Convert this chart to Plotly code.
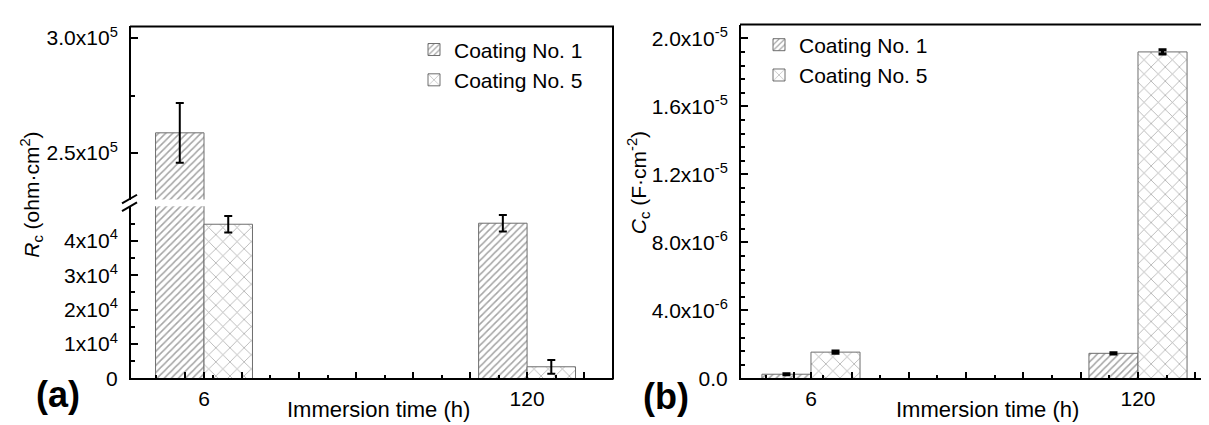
import plotly.graph_objects as go

# ---------------- data ----------------
categories = ["6", "120"]
cat_pos = [1, 2]

rc_coat1 = [2.588e5, 4.51e4]
rc_coat1_err = [1.3e4, 2.4e3]
rc_coat5 = [4.48e4, 3.4e3]
rc_coat5_err = [2.4e3, 2.0e3]

cc_coat1 = [2.5e-7, 1.48e-6]
cc_coat1_err = [3e-8, 4e-8]
cc_coat5 = [1.55e-6, 1.921e-5]
cc_coat5_err = [6e-8, 1.2e-7]

rc_low_ticks = [0, 1e4, 2e4, 3e4, 4e4]
rc_low_text = ["0", "1x10<sup>4</sup>", "2x10<sup>4</sup>", "3x10<sup>4</sup>", "4x10<sup>4</sup>"]
rc_up_ticks = [2.5e5, 3.0e5]
rc_up_text = ["2.5x10<sup>5</sup>", "3.0x10<sup>5</sup>"]
cc_ticks = [0, 4e-6, 8e-6, 1.2e-5, 1.6e-5, 2.0e-5]
cc_text = ["0.0", "4.0x10<sup>-6</sup>", "8.0x10<sup>-6</sup>", "1.2x10<sup>-5</sup>",
           "1.6x10<sup>-5</sup>", "2.0x10<sup>-5</sup>"]

# ---------------- layout helpers (pixel -> paper) ----------------
W, H = 1209, 425
def px(x): return x / W
def py(y): return 1 - y / H

FONT = "Liberation Sans, Arial, sans-serif"
name1, name5 = "Coating No. 1", "Coating No. 5"

pat1 = dict(shape="/", size=5, solidity=0.3, fgcolor="#4a4a4a", bgcolor="white")
pat5 = dict(shape="x", size=10, solidity=0.15, fgcolor="#555555", bgcolor="white")
line_style = dict(color="#6e6e6e", width=1)

def err(vals, thick=2, w=4):
    return dict(type="data", array=vals, visible=True, color="black", thickness=thick, width=w)

fig = go.Figure()

# left panel: lower segment (y) and upper segment (y2)
for ya, show in (("y", True), ("y2", False)):
    fig.add_trace(go.Bar(x=cat_pos, y=rc_coat1, error_y=err(rc_coat1_err), name=name1,
                         marker=dict(color="white", pattern=pat1, line=line_style),
                         xaxis="x", yaxis=ya, showlegend=show, legend="legend",
                         legendgroup="a1", offsetgroup="1"))
    fig.add_trace(go.Bar(x=cat_pos, y=rc_coat5, error_y=err(rc_coat5_err), name=name5,
                         marker=dict(color="white", pattern=pat5, line=line_style),
                         xaxis="x", yaxis=ya, showlegend=show, legend="legend",
                         legendgroup="a5", offsetgroup="5"))

# right panel
fig.add_trace(go.Bar(x=cat_pos, y=cc_coat1, error_y=err(cc_coat1_err, 3, 4), name=name1,
                     marker=dict(color="white", pattern=pat1, line=line_style),
                     xaxis="x2", yaxis="y3", legend="legend2", offsetgroup="1"))
fig.add_trace(go.Bar(x=cat_pos, y=cc_coat5, error_y=err(cc_coat5_err, 3, 4), name=name5,
                     marker=dict(color="white", pattern=pat5, line=line_style),
                     xaxis="x2", yaxis="y3", legend="legend2", offsetgroup="5"))

xl_dom = [px(123), px(605)]
xr_dom = [px(733), 1.0]
xl_range = [0.774, 2.266]
xr_range = [0.786, 2.2416]

axis_common = dict(showgrid=False, zeroline=False, showline=True, linecolor="black",
                   linewidth=2, tickcolor="black", tickwidth=2)

def x_axis(dom, rng, anchor, dt):
    # major ticks on a regular grid through x=2; labels only at the two categories
    n_lo = int((2 - rng[0]) / dt)
    n_hi = int((rng[1] - 2) / dt)
    vals = sorted(set([round(2 + k * dt, 6) for k in range(-n_lo, n_hi + 1)] + cat_pos))
    text = [categories[cat_pos.index(v)] if v in cat_pos else "" for v in vals]
    return dict(domain=dom, range=rng, anchor=anchor, tickmode="array", tickvals=vals,
                ticktext=text, ticks="inside", ticklen=6, tickfont=dict(size=21),
                ticklabelstandoff=0,
                minor=dict(ticks="inside", tickmode="linear", tick0=2, dtick=dt / 2,
                           ticklen=3, tickwidth=2, tickcolor="black"),
                **axis_common)

fig.update_layout(
    width=W, height=H, margin=dict(l=0, r=0, t=0, b=0),
    paper_bgcolor="white", plot_bgcolor="white",
    barmode="group", bargap=0.7, bargroupgap=0,
    font=dict(family=FONT, color="black"),
    xaxis=x_axis(xl_dom, xl_range, "y", 0.1765),
    yaxis=dict(domain=[py(380), py(202)], range=[0, 5e4], anchor="x",
               tickvals=rc_low_ticks, ticktext=rc_low_text, ticks="inside", ticklen=7,
               tickfont=dict(size=21), ticklabelstandoff=7,
               minor=dict(ticks="inside", tick0=0, dtick=5e3, ticklen=4,
                          tickwidth=2, tickcolor="black"), **axis_common),
    yaxis2=dict(domain=[py(195), py(16)], range=[2.298e5, 3.05e5], anchor="x",
                tickvals=rc_up_ticks, ticktext=rc_up_text, ticks="inside", ticklen=7,
                tickfont=dict(size=21), ticklabelstandoff=7,
                minor=dict(ticks="inside", tick0=0, dtick=2.5e4, ticklen=4,
                           tickwidth=2, tickcolor="black"), **axis_common),
    xaxis2=x_axis(xr_dom, xr_range, "y3", 0.1752),
    yaxis3=dict(domain=[py(380), py(14)], range=[0, 2.082e-5], anchor="x2",
                tickvals=cc_ticks, ticktext=cc_text, ticks="inside", ticklen=7,
                tickfont=dict(size=21), ticklabelstandoff=7,
                minor=dict(ticks="inside", tick0=0, dtick=8e-7, ticklen=4,
                           tickwidth=2, tickcolor="black"), **axis_common),
    legend=dict(x=px(406), y=py(19), xanchor="left", yanchor="top",
                bgcolor="rgba(0,0,0,0)", font=dict(size=21), tracegroupgap=0,
                itemwidth=30),
    legend2=dict(x=px(751), y=py(14), xanchor="left", yanchor="top",
                 bgcolor="rgba(0,0,0,0)", font=dict(size=21), tracegroupgap=0,
                 itemwidth=30),
)

shapes = [
    # left panel frame (top & right)
    dict(type="line", xref="paper", yref="paper", x0=px(122), x1=px(606), y0=py(16), y1=py(16),
         line=dict(color="black", width=2)),
    dict(type="line", xref="paper", yref="paper", x0=px(605), x1=px(605), y0=py(16), y1=py(381),
         line=dict(color="black", width=2)),
    # right panel top
    dict(type="line", xref="paper", yref="paper", x0=px(732), x1=1.0, y0=py(14), y1=py(14),
         line=dict(color="black", width=2)),
    # axis break marks
    dict(type="line", xref="paper", yref="paper", x0=px(114), x1=px(129), y0=py(199), y1=py(190),
         line=dict(color="black", width=2)),
    dict(type="line", xref="paper", yref="paper", x0=px(114), x1=px(129), y0=py(207), y1=py(198),
         line=dict(color="black", width=2)),
]
fig.update_layout(shapes=shapes)

annotations = [
    dict(text="<i>R</i><sub>c</sub> (ohm·cm<sup>2</sup>)", x=px(24), y=py(190), textangle=-90,
         font=dict(size=21)),
    dict(text="<i>C</i><sub>c</sub> (F·cm<sup>-2</sup>)", x=px(630), y=py(178), textangle=-90,
         font=dict(size=21)),
    dict(text="Immersion time (h)", x=px(370), y=py(412), font=dict(size=22)),
    dict(text="Immersion time (h)", x=px(979), y=py(412), font=dict(size=22)),
    dict(text="<b>(a)</b>", x=px(50), y=py(397), font=dict(size=36)),
    dict(text="<b>(b)</b>", x=px(658), y=py(399), font=dict(size=36)),
]
for a in annotations:
    a.update(xref="paper", yref="paper", showarrow=False, xanchor="center", yanchor="middle")
fig.update_layout(annotations=annotations)

fig.write_html("out.html")
